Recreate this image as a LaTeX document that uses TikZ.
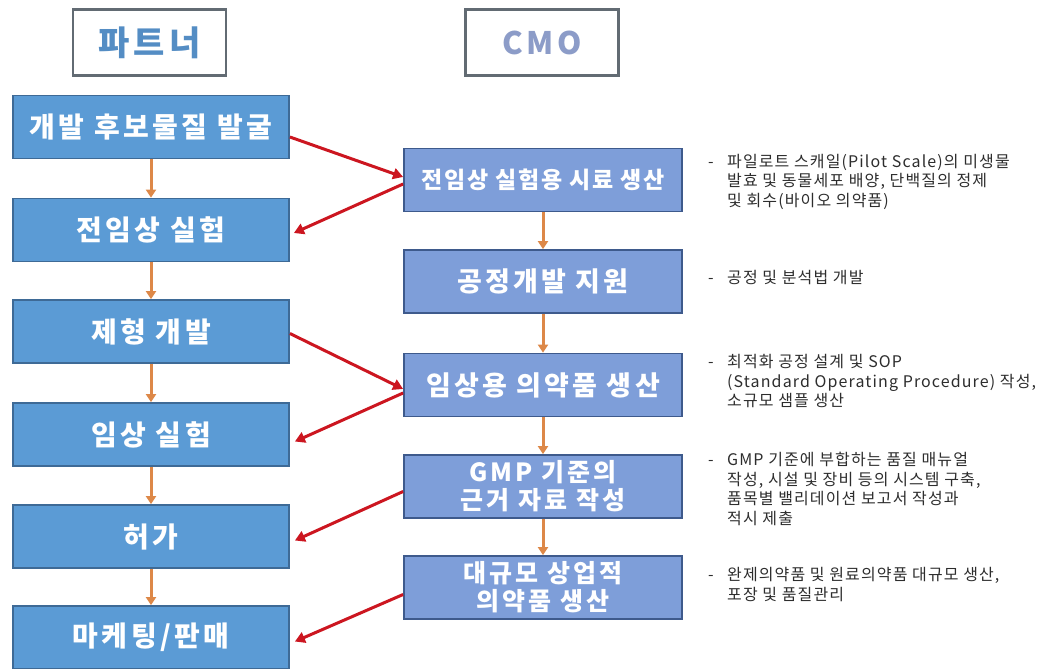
\documentclass[tikz,border=0pt]{standalone}
\usepackage{fontspec}
\setmainfont{Noto Sans CJK KR}
\newfontfamily\boxfont{Noto Sans CJK KR}[LetterSpace=12]
\newfontfamily\narrowboxfont{Noto Sans CJK KR}[LetterSpace=8]
\newfontfamily\notefont{Noto Sans CJK KR}[LetterSpace=7]
\newfontfamily\headfont{Noto Sans CJK KR}[LetterSpace=12]
\usetikzlibrary{arrows.meta}

\definecolor{partnerfill}{RGB}{91,155,213}
\definecolor{partnerline}{RGB}{62,106,150}
\definecolor{cmofill}{RGB}{126,158,217}
\definecolor{cmoline}{RGB}{62,90,140}
\definecolor{headline}{RGB}{98,107,115}
\definecolor{partnertext}{RGB}{84,141,196}
\definecolor{cmotext}{RGB}{140,156,200}
\definecolor{flow}{RGB}{221,136,72}
\definecolor{handoff}{RGB}{204,22,32}
\definecolor{notetext}{RGB}{45,45,45}

\tikzset{
  headbox/.style={draw=headline, line width=2.5pt, fill=white,
    minimum width=153pt, minimum height=66pt, inner sep=0pt,
    font=\headfont\fontsize{34}{36}\selectfont\bfseries},
  partnerbox/.style={draw=partnerline, line width=1.8pt, fill=partnerfill,
    minimum width=276pt, minimum height=63pt, inner sep=0pt, text=white,
    font=\boxfont\fontsize{28}{30}\selectfont\bfseries},
  cmobox/.style={draw=cmoline, line width=1.8pt, fill=cmofill,
    minimum width=278pt, minimum height=63pt, inner sep=0pt, text=white,
    align=center, font=\boxfont\fontsize{27}{29}\selectfont\bfseries},
  twoline/.style={font=\boxfont\fontsize{25}{28}\selectfont\bfseries},
  flowarrow/.style={draw=flow, line width=3pt,
    -{Triangle[width=10pt,length=8pt]}},
  handarrow/.style={draw=handoff, line width=3pt,
    -{Triangle[width=11pt,length=10pt]}},
  note/.style={anchor=base west, inner sep=0pt, text=notetext,
    font=\notefont\fontsize{16}{19.5}\selectfont},
}

\newcommand{\notedash}{\makebox[19pt][l]{-}}

\begin{document}
\begin{tikzpicture}[x=1pt, y=-1pt]
\useasboundingbox (0,0) rectangle (1053,669);

% column headers
\node[headbox, text=partnertext] (hp) at (149.5,42.5) {파트너};
\node[headbox, text=cmotext, font=\headfont\fontsize{31}{33}\selectfont\bfseries] (hc) at (542,42.5) {CMO};

% partner steps
\node[partnerbox] (l1) at (151,127) {개발 후보물질 발굴};
\node[partnerbox] (l2) at (151,230) {전임상 실험};
\node[partnerbox] (l3) at (151,331.5) {제형 개발};
\node[partnerbox] (l4) at (151,434.5) {임상 실험};
\node[partnerbox] (l5) at (151,536.5) {허가};
\node[partnerbox] (l6) at (151,637.5) {마케팅/판매};

% CMO services
\node[cmobox, font=\narrowboxfont\fontsize{23}{25}\selectfont\bfseries] (m1) at (543,180) {전임상 실험용 시료 생산};
\node[cmobox] (m2) at (543,281.5) {공정개발 지원};
\node[cmobox] (m3) at (543,385) {임상용 의약품 생산};
\node[cmobox, twoline] (m4) at (543,486.5) {GMP 기준의\\근거 자료 작성};
\node[cmobox, twoline] (m5) at (543,587.5) {대규모 상업적\\의약품 생산};

% flow within each column
\foreach \a/\b in {l1/l2,l2/l3,l3/l4,l4/l5,l5/l6,m1/m2,m2/m3,m3/m4,m4/m5}
  \draw[flowarrow] (\a.south) -- (\b.north);

% hand-offs between partner and CMO
\draw[handarrow] ([yshift=-10pt]l1.east) -- ([yshift=3pt]m1.west);
\draw[handarrow] ([yshift=-4pt]m1.west) -- ([xshift=4pt,yshift=-3pt]l2.east);
\draw[handarrow] ([yshift=-2pt]l3.east) -- ([yshift=-4pt]m3.west);
\draw[handarrow] ([yshift=-8pt]m3.west) -- ([xshift=5pt,yshift=-7pt]l4.east);
\draw[handarrow] ([yshift=-5pt]m4.west) -- ([xshift=5pt,yshift=-4pt]l5.east);
\draw[handarrow] ([yshift=-7pt]m5.west) -- ([xshift=5pt,yshift=-4pt]l6.east);

% notes beside the CMO services
\node[note] (n1) at (708,167.5) {\begin{tabular}[t]{@{}l@{}l@{}}
  \notedash & 파일로트 스캐일(Pilot Scale)의 미생물\\
  & 발효 및 동물세포 배양, 단백질의 정제\\
  & 및 회수(바이오 의약품)\end{tabular}};
\node[note] (n2) at (708,283.5) {\begin{tabular}[t]{@{}l@{}l@{}}
  \notedash & 공정 및 분석법 개발\end{tabular}};
\node[note] (n3) at (708,367.5) {\begin{tabular}[t]{@{}l@{}l@{}}
  \notedash & 최적화 공정 설계 및 SOP\\
  & (Standard Operating Procedure) 작성,\\
  & 소규모 샘플 생산\end{tabular}};
\node[note] (n4) at (708,465.5) {\begin{tabular}[t]{@{}l@{}l@{}}
  \notedash & GMP 기준에 부합하는 품질 매뉴얼\\
  & 작성, 시설 및 장비 등의 시스템 구축,\\
  & 품목별 밸리데이션 보고서 작성과\\
  & 적시 제출\end{tabular}};
\node[note] (n5) at (708,580.5) {\begin{tabular}[t]{@{}l@{}l@{}}
  \notedash & 완제의약품 및 원료의약품 대규모 생산,\\
  & 포장 및 품질관리\end{tabular}};
\end{tikzpicture}
\end{document}
